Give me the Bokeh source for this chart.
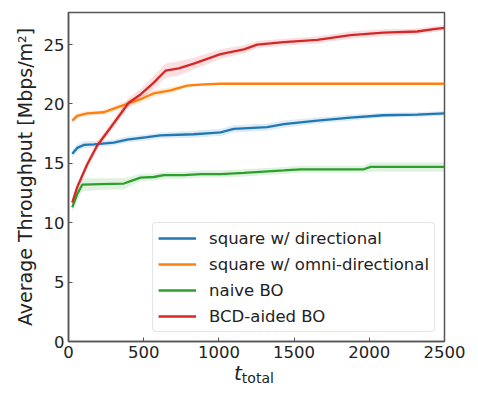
from bokeh.plotting import figure
from bokeh.models import Range1d, FixedTicker, Legend, LegendItem, Div
from bokeh.layouts import column
from bokeh.embed import file_html
from bokeh.resources import INLINE

# ---- data ----
blue_t = [25, 58, 102, 168, 301, 390, 523, 612, 833, 944, 1011, 1099, 1321, 1432, 1654, 1875, 2096, 2318, 2500]
blue_v = [15.8, 16.3, 16.55, 16.6, 16.75, 17.0, 17.2, 17.35, 17.45, 17.55, 17.6, 17.9, 18.05, 18.3, 18.6, 18.85, 19.05, 19.1, 19.2]
blue_s = [0.3, 0.3, 0.3, 0.25, 0.25, 0.25, 0.25, 0.25, 0.3, 0.3, 0.3, 0.3, 0.3, 0.3, 0.25, 0.25, 0.2, 0.2, 0.2]

orange_t = [25, 58, 124, 235, 301, 390, 479, 567, 678, 789, 900, 1011, 2500]
orange_v = [18.6, 19.0, 19.2, 19.3, 19.6, 20.0, 20.4, 20.9, 21.15, 21.55, 21.65, 21.7, 21.7]
orange_s = [0.25, 0.25, 0.2, 0.2, 0.25, 0.3, 0.3, 0.3, 0.25, 0.15, 0.1, 0.08, 0.08]

green_t = [25, 58, 91, 213, 368, 412, 479, 567, 634, 767, 878, 922, 1011, 1166, 1432, 1543, 1964, 2008, 2500]
green_v = [11.3, 12.4, 13.2, 13.25, 13.3, 13.5, 13.8, 13.85, 14.0, 14.0, 14.1, 14.1, 14.1, 14.2, 14.4, 14.5, 14.5, 14.7, 14.7]
green_s = [0.4, 0.5, 0.55, 0.5, 0.45, 0.4, 0.3, 0.3, 0.3, 0.3, 0.3, 0.3, 0.3, 0.3, 0.3, 0.3, 0.3, 0.4, 0.4]

red_t = [25, 58, 124, 191, 279, 400, 479, 567, 645, 733, 833, 922, 1011, 1166, 1255, 1432, 1654, 1875, 2096, 2318, 2429, 2500]
red_v = [11.7, 13.0, 14.9, 16.5, 18.0, 20.1, 20.8, 21.8, 22.8, 23.0, 23.4, 23.8, 24.2, 24.6, 25.0, 25.2, 25.4, 25.8, 26.0, 26.1, 26.3, 26.4]
red_s = [0.3, 0.35, 0.35, 0.35, 0.35, 0.4, 0.45, 0.55, 0.6, 0.6, 0.5, 0.45, 0.4, 0.35, 0.3, 0.3, 0.3, 0.3, 0.3, 0.25, 0.25, 0.25]

labels = ["square w/ directional", "square w/ omni-directional", "naive BO", "BCD-aided BO"]
colors = ["#1f77b4", "#ff7f0e", "#2ca02c", "#d62728"]
x_ticks = [0, 500, 1000, 1500, 2000, 2500]
y_ticks = [0, 5, 10, 15, 20, 25]

FONT = "DejaVu Sans"

p = figure(frame_width=376, frame_height=329,
           min_border_left=68, min_border_right=30, min_border_top=12, min_border_bottom=24,
           x_range=Range1d(0, 2500), y_range=Range1d(0, 27.7),
           output_backend="svg", toolbar_location=None)
p.xgrid.visible = False
p.ygrid.visible = False
p.outline_line_color = "#555555"
p.outline_line_width = 1.5
p.background_fill_color = "white"

for ax, ticks in ((p.xaxis[0], x_ticks), (p.yaxis[0], y_ticks)):
    ax.ticker = FixedTicker(ticks=ticks)
    ax.major_tick_in = 4
    ax.major_tick_out = 0
    ax.minor_tick_line_color = None
    ax.axis_line_color = "#555555"
    ax.axis_line_width = 1.5
    ax.major_tick_line_color = "#555555"
    ax.major_label_text_font = FONT
    ax.major_label_text_font_size = "16.5px"
    ax.major_label_text_color = "#222222"
    ax.major_label_standoff = 4

p.yaxis.axis_label = "Average Throughput [Mbps/m²]"
p.yaxis.axis_label_text_font = FONT
p.yaxis.axis_label_text_font_size = "19px"
p.yaxis.axis_label_text_font_style = "normal"
p.yaxis.axis_label_text_color = "#222222"
p.yaxis.axis_label_standoff = 5

series = [(blue_t, blue_v, blue_s), (orange_t, orange_v, orange_s),
          (green_t, green_v, green_s), (red_t, red_v, red_s)]
items = []
for (t, v, s), c in zip(series, colors):
    lo = [a - b for a, b in zip(v, s)]
    hi = [a + b for a, b in zip(v, s)]
    p.varea(x=t, y1=lo, y2=hi, fill_color=c, fill_alpha=0.15)
for (t, v, s), c, lab in zip(series, colors, labels):
    r = p.line(t, v, line_color=c, line_width=2.3)
    items.append(LegendItem(label=lab, renderers=[r]))

leg = Legend(items=items, location="bottom_right", margin=9, padding=5, spacing=6,
             label_height=20, glyph_height=20, glyph_width=38, label_standoff=13,
             label_text_font=FONT, label_text_font_size="16.5px", label_text_color="#222222",
             border_line_color="#cccccc", border_line_width=1,
             background_fill_alpha=0.8)
if "border_radius" in Legend.properties():
    leg.border_radius = 4
p.add_layout(leg)

xlabel = Div(
    text='<span style="font-style:italic;font-size:20px">t</span>'
         '<span style="font-size:14px;position:relative;top:3px">total</span>',
    width=478, height=30,
    styles={"font-family": FONT, "color": "#222222", "padding-left": "229px",
            "line-height": "20px", "margin-top": "-2px"})

layout = column(p, xlabel, spacing=0)
open("out.html", "w").write(file_html(layout, INLINE))
